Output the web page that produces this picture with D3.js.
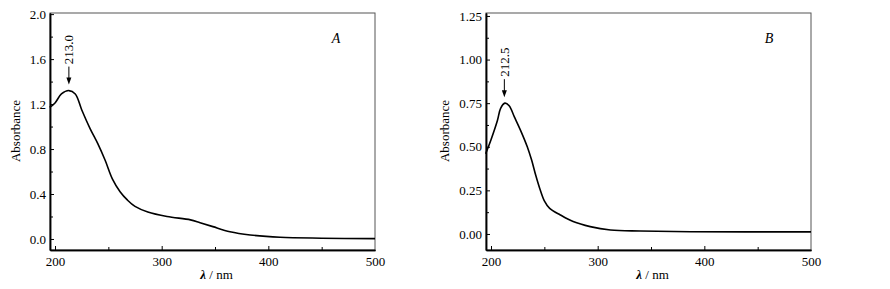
<!DOCTYPE html>
<html>
<head>
<meta charset="utf-8">
<script src="https://cdn.jsdelivr.net/npm/d3@7"></script>
<style>
  body { margin: 0; background: #fff; }
  svg { display: block; }
</style>
</head>
<body>
<div id="chart"></div>
<script>
// Panel A spectrum
const wavelengthA = [195, 200, 206, 213, 219, 225, 233, 240, 247, 254, 261, 268, 275, 287, 305, 327, 336, 348, 364, 383, 411, 450, 500];
const absorbA = [1.17, 1.21, 1.29, 1.32, 1.29, 1.15, 0.98, 0.85, 0.70, 0.53, 0.42, 0.345, 0.29, 0.24, 0.20, 0.17, 0.145, 0.11, 0.065, 0.036, 0.015, 0.007, 0.003];

// Panel B spectrum
const wavelengthB = [195, 200, 206, 209, 213, 217, 222, 228, 234, 238, 242, 246, 250, 255, 265, 277, 293, 312, 340, 387, 500];
const absorbB = [0.46, 0.54, 0.65, 0.72, 0.75, 0.735, 0.67, 0.59, 0.50, 0.425, 0.335, 0.255, 0.19, 0.147, 0.109, 0.071, 0.042, 0.023, 0.017, 0.013, 0.012];

const xTicks = [200, 300, 400, 500];
const xMinor = [250, 350, 450];
const yTicksA = [0, 0.4, 0.8, 1.2, 1.6, 2.0];
const yMinorA = [0.2, 0.6, 1.0, 1.4, 1.8];
const yTicksB = [0, 0.25, 0.5, 0.75, 1.0, 1.25];
const yMinorB = [0.125, 0.375, 0.625, 0.875, 1.125];

const peakA = 213.0, peakB = 212.5;

const serif = "'Liberation Serif', 'Times New Roman', Times, 'DejaVu Serif', serif";

const svg = d3.select("#chart")
    .append("svg")
    .attr("width", 890)
    .attr("height", 289)
    .attr("font-family", serif);

function drawPanel(p) {
    const x = d3.scaleLinear().domain([195.3, 500]).range([p.left, p.right]);
    const y = d3.scaleLinear().domain(p.yDomain).range([250, 13]);
    const g = svg.append("g");

    // frame: top and right thin
    g.append("rect")
        .attr("x", p.left).attr("y", 13)
        .attr("width", p.right - p.left).attr("height", 237)
        .attr("fill", "none").attr("stroke", "#555").attr("stroke-width", 1);

    // bottom axis, ticks pointing in
    const xAxis = g.append("g")
        .attr("transform", `translate(0, 250)`)
        .call(d3.axisBottom(x).tickValues(xTicks).tickSizeInner(-4).tickSizeOuter(0).tickPadding(7));
    xAxis.selectAll(".tick")
        .filter(d => d === 500).select("line").remove();
    g.append("g")
        .attr("transform", `translate(0, 250)`)
        .call(d3.axisBottom(x).tickValues(xMinor).tickSizeInner(-3).tickSizeOuter(0).tickFormat(""));

    // left axis
    g.append("g")
        .attr("transform", `translate(${p.left}, 0)`)
        .call(d3.axisLeft(y).tickValues(p.yTicks).tickSizeInner(-4).tickSizeOuter(0).tickPadding(4).tickFormat(d3.format(p.fmt)));
    g.append("g")
        .attr("transform", `translate(${p.left}, 0)`)
        .call(d3.axisLeft(y).tickValues(p.yMinor).tickSizeInner(-3).tickSizeOuter(0).tickFormat(""));

    g.selectAll("g").attr("font-family", null).attr("font-size", null);
    g.selectAll(".domain").attr("stroke", "#000").attr("stroke-width", 1.5);
    g.selectAll(".tick line").attr("stroke", "#000").attr("stroke-width", 1);
    g.selectAll(".tick text")
        .attr("font-family", serif)
        .attr("font-size", 13)
        .attr("fill", "#000");

    // spectrum
    const line = d3.line()
        .x((d, i) => x(p.wl[i]))
        .y(d => y(d))
        .curve(d3.curveCatmullRom);
    g.append("path")
        .datum(p.ab)
        .attr("d", line)
        .attr("fill", "none")
        .attr("stroke", "#000")
        .attr("stroke-width", 1.6);

    // peak marker
    const px = x(p.peak);
    const peakY = y(p.ab[p.wl.indexOf(Math.round(p.peak))]);
    g.append("line")
        .attr("x1", px).attr("x2", px)
        .attr("y1", peakY - 24).attr("y2", peakY - 11)
        .attr("stroke", "#000").attr("stroke-width", 1);
    g.append("path")
        .attr("d", `M${px - 2.5},${peakY - 13} L${px + 2.5},${peakY - 13} L${px},${peakY - 6} Z`)
        .attr("fill", "#000");
    g.append("text")
        .attr("transform", `translate(${px + 4.5}, ${peakY - 41}) rotate(-90)`)
        .attr("text-anchor", "middle")
        .attr("font-family", serif)
        .attr("font-size", 13)
        .text(p.peak.toFixed(1));

    // panel letter
    g.append("text")
        .attr("x", p.letterX).attr("y", 43)
        .attr("text-anchor", "middle")
        .attr("font-family", serif)
        .attr("font-size", 14)
        .attr("font-style", "italic")
        .text(p.letter);

    // axis titles
    g.append("text")
        .attr("transform", `translate(${p.titleX}, 131) rotate(-90)`)
        .attr("text-anchor", "middle")
        .attr("font-family", serif)
        .attr("font-size", 13)
        .text("Absorbance");
    const xt = g.append("text")
        .attr("x", (p.left + p.right) / 2 + 4).attr("y", 279)
        .attr("text-anchor", "middle")
        .attr("font-family", serif)
        .attr("font-size", 13);
    xt.append("tspan").attr("font-style", "italic").attr("font-weight", "bold").text("λ");
    xt.append("tspan").text(" / nm");
}

drawPanel({
    left: 50, right: 375, yDomain: [-0.098, 2.01],
    yTicks: yTicksA, yMinor: yMinorA, fmt: ".1f",
    wl: wavelengthA, ab: absorbA, peak: peakA,
    letter: "A", letterX: 336, titleX: 20
});

drawPanel({
    left: 486, right: 811, yDomain: [-0.092, 1.267],
    yTicks: yTicksB, yMinor: yMinorB, fmt: ".2f",
    wl: wavelengthB, ab: absorbB, peak: peakB,
    letter: "B", letterX: 769, titleX: 449
});
</script>
</body>
</html>
